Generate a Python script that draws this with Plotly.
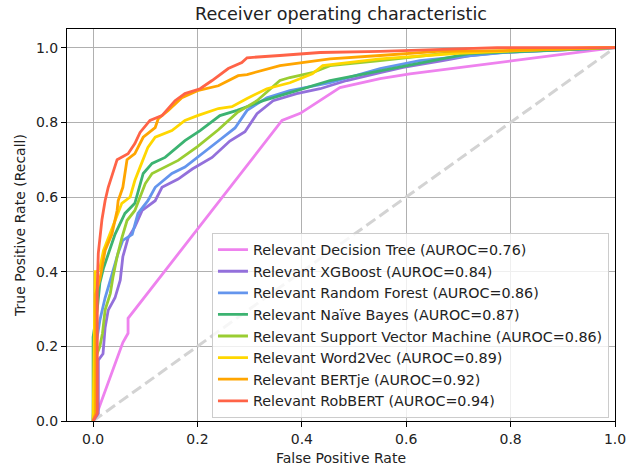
import plotly.graph_objects as go

# ROC curves (false positive rate / true positive rate) per classifier
models = ["Decision Tree", "XGBoost", "Random Forest", "Naïve Bayes",
          "Support Vector Machine", "Word2Vec", "BERTje", "RobBERT"]
auroc = [0.76, 0.84, 0.86, 0.87, 0.86, 0.89, 0.92, 0.94]
colors = ["violet", "mediumpurple", "cornflowerblue", "mediumseagreen",
          "yellowgreen", "gold", "orange", "tomato"]

fpr_dt = [0, 0.01, 0.057, 0.067, 0.067, 0.362, 0.397, 0.473, 0.55, 0.607, 0.805, 1.0]
tpr_dt = [0, 0.03, 0.21, 0.235, 0.275, 0.805, 0.824, 0.893, 0.917, 0.93, 0.965, 1.0]

fpr_xgb = [0, 0.01, 0.01, 0.019, 0.023, 0.029, 0.042, 0.052, 0.057, 0.067, 0.080, 0.094,
           0.119, 0.132, 0.163, 0.190, 0.228, 0.262, 0.291, 0.314, 0.345, 0.39, 0.435,
           0.486, 0.55, 0.594, 0.67, 0.722, 0.78, 1.0]
tpr_xgb = [0, 0.02, 0.163, 0.18, 0.25, 0.297, 0.33, 0.377, 0.44, 0.49, 0.52, 0.564,
           0.59, 0.626, 0.648, 0.675, 0.706, 0.75, 0.775, 0.823, 0.858, 0.877, 0.89,
           0.912, 0.933, 0.947, 0.965, 0.979, 0.987, 1.0]

fpr_rf = [0, 0.005, 0.013, 0.023, 0.033, 0.048, 0.057, 0.075, 0.086, 0.105, 0.119, 0.151,
          0.176, 0.207, 0.240, 0.272, 0.295, 0.333, 0.377, 0.454, 0.55, 0.626, 0.785, 1.0]
tpr_rf = [0, 0.2, 0.27, 0.33, 0.377, 0.45, 0.484, 0.50, 0.556, 0.59, 0.626, 0.663,
          0.68, 0.715, 0.75, 0.785, 0.832, 0.866, 0.885, 0.906, 0.944, 0.965, 0.987, 1.0]

fpr_nb = [0, 0.0, 0.008, 0.013, 0.020, 0.033, 0.042, 0.061, 0.080, 0.096, 0.113, 0.138,
          0.176, 0.205, 0.243, 0.276, 0.326, 0.39, 0.454, 0.55, 0.72, 1.0]
tpr_nb = [0, 0.225, 0.30, 0.37, 0.41, 0.465, 0.50, 0.556, 0.583, 0.663, 0.69, 0.706,
          0.751, 0.778, 0.818, 0.832, 0.858, 0.885, 0.912, 0.938, 0.984, 1.0]

fpr_svm = [0, 0.005, 0.013, 0.018, 0.023, 0.033, 0.038, 0.046, 0.055, 0.065, 0.080, 0.100,
           0.113, 0.138, 0.163, 0.200, 0.240, 0.276, 0.314, 0.358, 0.377, 0.42, 0.454,
           0.55, 0.69, 1.0]
tpr_svm = [0, 0.17, 0.2, 0.235, 0.297, 0.342, 0.385, 0.44, 0.49, 0.537, 0.564, 0.636,
           0.663, 0.68, 0.698, 0.735, 0.78, 0.826, 0.858, 0.912, 0.92, 0.933, 0.952,
           0.965, 0.987, 1.0]

fpr_w2v = [0, 0.004, 0.008, 0.013, 0.020, 0.029, 0.042, 0.055, 0.071, 0.080, 0.090, 0.105,
           0.119, 0.151, 0.176, 0.200, 0.240, 0.266, 0.295, 0.333, 0.377, 0.42, 0.44,
           0.486, 0.55, 0.70, 0.95, 1.0]
tpr_w2v = [0, 0.40, 0.40, 0.41, 0.457, 0.49, 0.537, 0.583, 0.60, 0.644, 0.68, 0.733,
           0.76, 0.778, 0.805, 0.818, 0.837, 0.842, 0.864, 0.89, 0.906, 0.93, 0.952,
           0.96, 0.97, 0.985, 1.0, 1.0]

fpr_bertje = [0, 0.005, 0.005, 0.013, 0.023, 0.036, 0.046, 0.048, 0.057, 0.065, 0.080,
              0.096, 0.119, 0.125, 0.144, 0.170, 0.200, 0.240, 0.278, 0.295, 0.358,
              0.454, 0.55, 0.66, 0.785, 1.0]
tpr_bertje = [0, 0.02, 0.34, 0.38, 0.457, 0.50, 0.564, 0.59, 0.626, 0.70, 0.716,
              0.76, 0.786, 0.81, 0.832, 0.866, 0.885, 0.898, 0.925, 0.928, 0.952,
              0.97, 0.979, 0.99, 0.992, 1.0]

fpr_robbert = [0, 0.008, 0.008, 0.010, 0.017, 0.023, 0.029, 0.046, 0.067, 0.080, 0.090,
               0.109, 0.132, 0.157, 0.176, 0.205, 0.228, 0.259, 0.285, 0.295, 0.358,
               0.435, 0.55, 0.774, 1.0]
tpr_robbert = [0, 0.02, 0.36, 0.45, 0.54, 0.59, 0.626, 0.70, 0.716, 0.743, 0.773,
               0.805, 0.818, 0.858, 0.877, 0.89, 0.912, 0.944, 0.96, 0.973, 0.979,
               0.987, 0.99, 1.0, 1.0]

fprs = [fpr_dt, fpr_xgb, fpr_rf, fpr_nb, fpr_svm, fpr_w2v, fpr_bertje, fpr_robbert]
tprs = [tpr_dt, tpr_xgb, tpr_rf, tpr_nb, tpr_svm, tpr_w2v, tpr_bertje, tpr_robbert]

chance = [0, 1]

font = "DejaVu Sans"
fs = 14
fig = go.Figure()

# chance diagonal
fig.add_trace(go.Scatter(x=chance, y=chance, mode="lines", showlegend=False,
                         line=dict(color="lightgray", width=3, dash="11px,5px")))

for i, (name, auc, col, fx, fy) in enumerate(zip(models, auroc, colors, fprs, tprs)):
    fig.add_trace(go.Scatter(
        x=fx, y=fy, mode="lines",
        name=f"Relevant {name} (AUROC={auc:.2f})",
        legendgroup=f"g{i}",
        line=dict(color=col, width=2.8),
    ))

axis_common = dict(
    showline=True, mirror=True, linecolor="black", linewidth=1,
    ticks="outside", ticklen=5, tickcolor="black", tickwidth=1,
    showgrid=True, gridcolor="#b0b0b0", gridwidth=1, zeroline=False,
    automargin=False,
    tickfont=dict(family=font, size=fs, color="#222222"),
)

fig.update_layout(
    width=627, height=471,
    margin=dict(l=67, r=12, t=29, b=50, autoexpand=False),
    paper_bgcolor="white", plot_bgcolor="white",
    font=dict(family=font, color="#222222"),
    title=dict(text="Receiver operating characteristic", x=0.5, xref="paper",
               y=1 - 14 / 471, yref="container", xanchor="center", yanchor="middle",
               font=dict(family=font, size=17.6, color="#222222")),
    xaxis=dict(range=[-0.05, 1.0], tickvals=[0, 0.2, 0.4, 0.6, 0.8, 1.0],
               ticktext=["0.0", "0.2", "0.4", "0.6", "0.8", "1.0"],
               title=dict(text="False Positive Rate", standoff=7,
                          font=dict(family=font, size=fs, color="#222222")),
               **axis_common),
    yaxis=dict(range=[0, 1.05], tickvals=[0, 0.2, 0.4, 0.6, 0.8, 1.0],
               ticktext=["0.0", "0.2", "0.4", "0.6", "0.8", "1.0"],
               title=dict(text="True Positive Rate (Recall)", standoff=7,
                          font=dict(family=font, size=fs, color="#222222")),
               **axis_common),
    legend=dict(x=0.989, y=0.008, xanchor="right", yanchor="bottom",
                bgcolor="rgba(255,255,255,0.8)", bordercolor="#cccccc", borderwidth=1,
                tracegroupgap=0,
                font=dict(family=font, size=14.3, color="#222222")),
)

fig.write_html("out.html")
